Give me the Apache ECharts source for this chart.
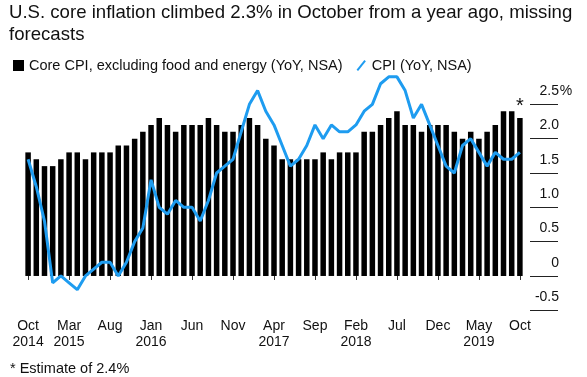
<!DOCTYPE html>
<html>
<head>
<meta charset="utf-8">
<script src="https://cdn.jsdelivr.net/npm/echarts@6/dist/echarts.min.js"></script>
<style>
    html, body { margin: 0; padding: 0; background: #fff; }
    #chart { width: 587px; height: 377px; }
</style>
</head>
<body>
<div id="chart"></div>
<script>
// 月份 (2014年10月 - 2019年10月)
const months = [
    'Oct 2014', 'Nov 2014', 'Dec 2014',
    'Jan 2015', 'Feb 2015', 'Mar 2015', 'Apr 2015', 'May 2015', 'Jun 2015',
    'Jul 2015', 'Aug 2015', 'Sep 2015', 'Oct 2015', 'Nov 2015', 'Dec 2015',
    'Jan 2016', 'Feb 2016', 'Mar 2016', 'Apr 2016', 'May 2016', 'Jun 2016',
    'Jul 2016', 'Aug 2016', 'Sep 2016', 'Oct 2016', 'Nov 2016', 'Dec 2016',
    'Jan 2017', 'Feb 2017', 'Mar 2017', 'Apr 2017', 'May 2017', 'Jun 2017',
    'Jul 2017', 'Aug 2017', 'Sep 2017', 'Oct 2017', 'Nov 2017', 'Dec 2017',
    'Jan 2018', 'Feb 2018', 'Mar 2018', 'Apr 2018', 'May 2018', 'Jun 2018',
    'Jul 2018', 'Aug 2018', 'Sep 2018', 'Oct 2018', 'Nov 2018', 'Dec 2018',
    'Jan 2019', 'Feb 2019', 'Mar 2019', 'Apr 2019', 'May 2019', 'Jun 2019',
    'Jul 2019', 'Aug 2019', 'Sep 2019', 'Oct 2019'
];

// Core CPI, excluding food and energy (YoY, NSA)
const coreCpi = [
    1.8, 1.7, 1.6,
    1.6, 1.7, 1.8, 1.8, 1.7, 1.8, 1.8, 1.8, 1.9, 1.9, 2.0, 2.1,
    2.2, 2.3, 2.2, 2.1, 2.2, 2.2, 2.2, 2.3, 2.2, 2.1, 2.1, 2.2,
    2.3, 2.2, 2.0, 1.9, 1.7, 1.7, 1.7, 1.7, 1.7, 1.8, 1.7, 1.8,
    1.8, 1.8, 2.1, 2.1, 2.2, 2.3, 2.4, 2.2, 2.2, 2.1, 2.2, 2.2,
    2.2, 2.1, 2.0, 2.1, 2.0, 2.1, 2.2, 2.4, 2.4, 2.3
];

// CPI (YoY, NSA)
const cpi = [
    1.7, 1.3, 0.8,
    -0.1, 0.0, -0.1, -0.2, 0.0, 0.1, 0.2, 0.2, 0.0, 0.2, 0.5, 0.7,
    1.4, 1.0, 0.9, 1.1, 1.0, 1.0, 0.8, 1.1, 1.5, 1.6, 1.7, 2.1,
    2.5, 2.7, 2.4, 2.2, 1.9, 1.6, 1.7, 1.9, 2.2, 2.0, 2.2, 2.1,
    2.1, 2.2, 2.4, 2.5, 2.8, 2.9, 2.9, 2.7, 2.3, 2.5, 2.2, 1.9,
    1.6, 1.5, 1.9, 2.0, 1.8, 1.6, 1.8, 1.7, 1.7, 1.8
];

// 横轴刻度标签 (每5个月一个)
const xTickLabels = [
    'Oct\n2014', 'Mar\n2015', 'Aug', 'Jan\n2016', 'Jun', 'Nov', 'Apr\n2017',
    'Sep', 'Feb\n2018', 'Jul', 'Dec', 'May\n2019', 'Oct'
];

// 纵轴刻度标签
const yTickLabels = ['-0.5', '0', '0.5', '1.0', '1.5', '2.0', '2.5'];

const CORE_NAME = 'Core CPI, excluding food and energy (YoY, NSA)';
const CPI_NAME = 'CPI (YoY, NSA)';
const FONT = '"Liberation Sans", Arial, sans-serif';

function initChart() {
    const chart = echarts.init(document.getElementById('chart'));

    const barData = coreCpi.map(function (v, i) {
        if (i === coreCpi.length - 1) {
            return {
                value: v,
                label: {
                    show: true,
                    position: 'top',
                    distance: 2,
                    formatter: '*',
                    fontSize: 20,
                    color: '#111',
                    fontFamily: FONT
                }
            };
        }
        return v;
    });

    chart.setOption({
        animation: false,
        textStyle: { fontFamily: FONT },
        title: {
            text: 'U.S. core inflation climbed 2.3% in October from a year ago, missing\nforecasts',
            left: 9,
            top: 2,
            padding: 0,
            textStyle: {
                fontSize: 18.6,
                fontWeight: 'normal',
                color: '#111',
                lineHeight: 22,
                fontFamily: FONT
            }
        },
        legend: {
            left: 8,
            top: 53,
            itemWidth: 11,
            itemHeight: 11,
            itemGap: 14,
            textStyle: { fontSize: 14.5, color: '#111', fontFamily: FONT },
            data: [
                { name: CORE_NAME, icon: 'rect' },
                { name: CPI_NAME, icon: 'path://M0,10 L8,0 L9.6,1.3 L1.6,11.3 Z' }
            ]
        },
        graphic: [{
            type: 'text',
            left: 10,
            top: 361,
            style: {
                text: '* Estimate of 2.4%',
                fontSize: 14.5,
                fill: '#111',
                fontFamily: FONT
            }
        }],
        grid: [
            { left: 24, width: 500, top: 70, height: 240.3 },
            { left: 530, width: 28, top: 104, height: 206.3 }
        ],
        xAxis: [{
            type: 'category',
            gridIndex: 0,
            data: months,
            offset: 2,
            axisLine: { show: false },
            axisTick: {
                show: true,
                interval: 4,
                alignWithLabel: true,
                length: 4,
                lineStyle: { color: '#333' }
            },
            axisLabel: {
                interval: 4,
                margin: 6,
                fontSize: 14,
                lineHeight: 16,
                color: '#111',
                formatter: function (value, index) {
                    return xTickLabels[index / 5];
                }
            }
        }, {
            type: 'value',
            gridIndex: 1,
            show: false
        }],
        yAxis: [{
            type: 'value',
            gridIndex: 0,
            min: -0.5,
            max: 3,
            show: false
        }, {
            type: 'value',
            gridIndex: 1,
            position: 'right',
            min: -0.5,
            max: 2.5,
            interval: 0.5,
            axisLine: { show: false },
            axisTick: { show: false },
            splitLine: { show: true, lineStyle: { color: '#222', width: 1 } },
            axisLabel: {
                margin: 15,
                align: 'right',
                verticalAlign: 'bottom',
                padding: [0, 0, 6, 0],
                fontSize: 14,
                color: '#111',
                formatter: function (value, index) {
                    const t = yTickLabels[index];
                    return index === yTickLabels.length - 1 ? t + '{p|%}' : t + '{s|}';
                },
                rich: {
                    p: { width: 14, fontSize: 14, color: '#111', align: 'left' },
                    s: { width: 14 }
                }
            }
        }],
        series: [{
            name: CORE_NAME,
            type: 'bar',
            xAxisIndex: 0,
            yAxisIndex: 0,
            data: barData,
            barWidth: 5.5,
            itemStyle: { color: '#000' },
            z: 2
        }, {
            name: CPI_NAME,
            type: 'line',
            xAxisIndex: 0,
            yAxisIndex: 0,
            data: cpi,
            symbol: 'none',
            lineStyle: { width: 3, color: '#1e9cf0' },
            itemStyle: { color: '#1e9cf0' },
            z: 3
        }]
    });

    window.addEventListener('resize', function () {
        chart.resize();
    });
}

document.addEventListener('DOMContentLoaded', initChart);
</script>
</body>
</html>
